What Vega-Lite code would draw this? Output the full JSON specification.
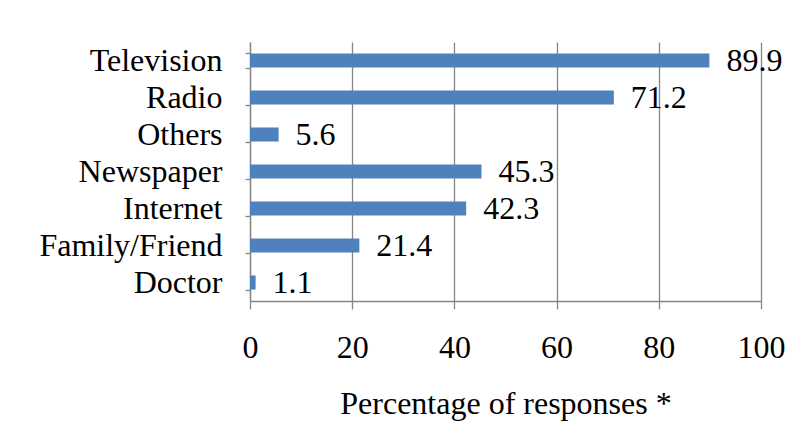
{
  "$schema": "https://vega.github.io/schema/vega-lite/v6.json",
  "autosize": "none",
  "width": 511,
  "height": 259,
  "padding": {"left": 250, "top": 42, "right": 41, "bottom": 147},
  "background": "white",
  "config": {
    "view": {"stroke": null},
    "font": "Liberation Serif",
    "axis": {
      "labelFont": "Liberation Serif",
      "titleFont": "Liberation Serif",
      "labelFontSize": 32,
      "titleFontSize": 32,
      "labelColor": "black",
      "titleColor": "black",
      "titleFontWeight": "normal",
      "domainColor": "#868686",
      "tickColor": "#868686",
      "gridColor": "#868686",
      "domainWidth": 1.3,
      "tickWidth": 1.3,
      "gridWidth": 1.3
    }
  },
  "data": {
    "values": [
      {"source": "Television", "pct": 89.9},
      {"source": "Radio", "pct": 71.2},
      {"source": "Others", "pct": 5.6},
      {"source": "Newspaper", "pct": 45.3},
      {"source": "Internet", "pct": 42.3},
      {"source": "Family/Friend", "pct": 21.4},
      {"source": "Doctor", "pct": 1.1}
    ]
  },
  "encoding": {
    "y": {
      "field": "source",
      "type": "nominal",
      "sort": null,
      "scale": {"paddingInner": 0.62, "paddingOuter": 0.31},
      "axis": {
        "title": null,
        "tickBand": "extent",
        "tickSize": 5,
        "labelPadding": 23,
        "labelLimit": 400,
        "grid": false
      }
    },
    "x": {
      "field": "pct",
      "type": "quantitative",
      "scale": {"domain": [0, 100], "nice": false},
      "axis": {
        "title": "Percentage of responses *",
        "values": [0, 20, 40, 60, 80, 100],
        "tickSize": 8,
        "labelPadding": 23,
        "labelFlush": false,
        "labelOverlap": false,
        "titlePadding": 25,
        "grid": true
      }
    }
  },
  "layer": [
    {"mark": {"type": "bar", "color": "#4F81BD"}},
    {
      "mark": {"type": "text", "align": "left", "baseline": "middle", "dx": 17, "fontSize": 32, "font": "Liberation Serif", "color": "black"},
      "encoding": {"text": {"field": "pct", "type": "quantitative", "format": ".1f"}}
    }
  ]
}
